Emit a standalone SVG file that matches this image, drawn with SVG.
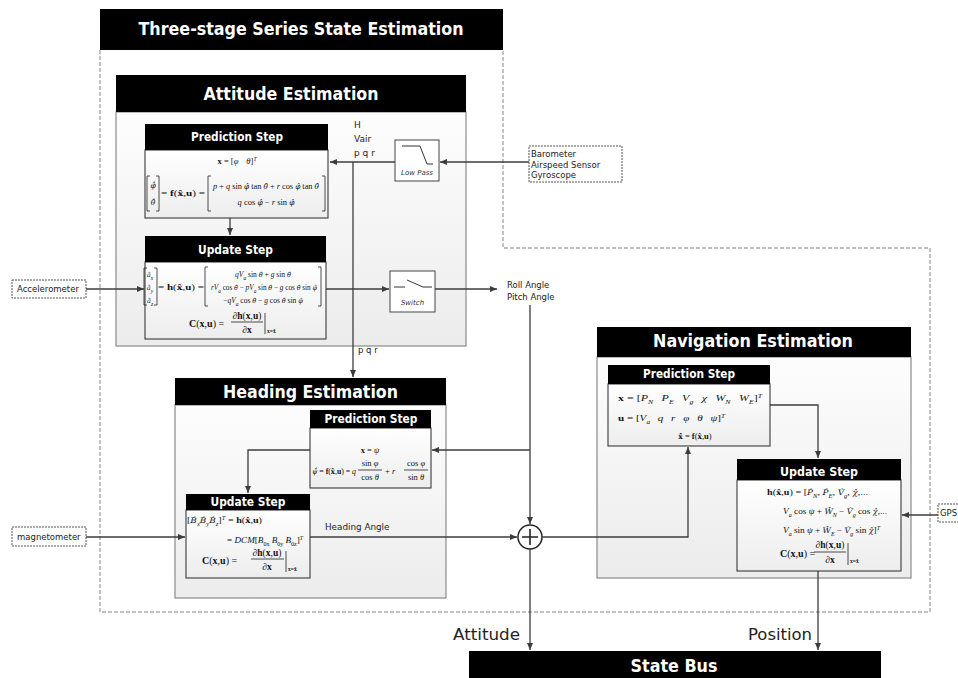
<svg xmlns="http://www.w3.org/2000/svg" width="958" height="678" viewBox="0 0 958 678">
<style>
.hdr{fill:#000}
.ttl{font-family:"DejaVu Sans",Verdana,sans-serif;font-weight:bold;fill:#fff;text-anchor:middle}
.big{fill:url(#gb);stroke:#8a8a8a;stroke-width:1.2}
.sb{fill:url(#gs);stroke:#3a3a3a;stroke-width:1.1}
.ln{stroke:#3c3c3c;stroke-width:1.3;fill:none}
.br{stroke:#222;stroke-width:0.8;fill:none}
.m{font-family:"Liberation Serif","Times New Roman",serif;font-size:8.5px;fill:#111}
.h{font-family:"DejaVu Serif",serif;font-size:88%}
.i{font-style:italic}
.b{font-weight:bold}
.s{font-size:5.5px;baseline-shift:sub}
.p{font-size:5.5px;baseline-shift:super;font-style:italic}
.lbl{font-family:"DejaVu Sans",Verdana,sans-serif;font-size:8.5px;fill:#222}
.it{font-family:"DejaVu Sans",Verdana,sans-serif;font-size:7px;font-style:italic;fill:#333;text-anchor:middle}
.dbox{fill:#fff;stroke:#555;stroke-width:1;stroke-dasharray:2 1}
.blk{fill:#fff;stroke:#444;stroke-width:1}
</style>
<defs>
<linearGradient id="gb" x1="0" y1="0" x2="0" y2="1"><stop offset="0" stop-color="#fdfdfd"/><stop offset="1" stop-color="#ececec"/></linearGradient>
<linearGradient id="gs" x1="0" y1="0" x2="0" y2="1"><stop offset="0" stop-color="#ffffff"/><stop offset="1" stop-color="#ededed"/></linearGradient>
<marker id="ar" markerWidth="8" markerHeight="6" refX="7" refY="3" orient="auto" markerUnits="userSpaceOnUse"><path d="M0,0 L7,3 L0,6 z" fill="#3c3c3c"/></marker>
</defs>
<rect width="958" height="678" fill="#fff"/>

<g id="frame">
<path d="M100,50 V612 H930 V248 H503 V50" fill="none" stroke="#858585" stroke-width="1" stroke-dasharray="4 2"/>
<rect class="hdr" x="100" y="9" width="403" height="41"/>
<text class="ttl" x="301" y="35" font-size="18" textLength="325" lengthAdjust="spacingAndGlyphs">Three-stage Series State Estimation</text>
</g>

<g id="attitude">
<rect class="big" x="116" y="112" width="350" height="234"/>
<rect class="hdr" x="116" y="75" width="350" height="37"/>
<text class="ttl" x="291" y="100" font-size="18" textLength="175" lengthAdjust="spacingAndGlyphs">Attitude Estimation</text>
</g>

<g id="att-pred">
<rect class="sb" x="145" y="150" width="183" height="68"/>
<rect class="hdr" x="145" y="124" width="183" height="26"/>
<text class="ttl" x="237" y="141" font-size="12" textLength="92" lengthAdjust="spacingAndGlyphs">Prediction Step</text>
<text class="m" x="237" y="164" text-anchor="middle"><tspan class="b">x</tspan> = [<tspan class="i">φ</tspan><tspan class="i" dx="8">θ</tspan>]<tspan class="p">T</tspan></text>
<path class="br" d="M150,176 h-3 v35 h3 M156,176 h3 v35 h-3 M211,176 h-3 v35 h3 M322,176 h3 v35 h-3"/>
<text class="m" x="153" y="188" text-anchor="middle"><tspan class="i h">φ&#x302;&#x307;</tspan></text>
<text class="m" x="153" y="205" text-anchor="middle"><tspan class="i h">θ&#x302;&#x307;</tspan></text>
<text class="m" x="161" y="196" textLength="44" lengthAdjust="spacingAndGlyphs">= <tspan class="b">f</tspan>(<tspan class="b h">x&#x302;</tspan>,<tspan class="b">u</tspan>) =</text>
<text class="m" x="266" y="189" text-anchor="middle" textLength="106" lengthAdjust="spacingAndGlyphs"><tspan class="i">p</tspan> + <tspan class="i">q</tspan> sin <tspan class="i h">φ&#x302;</tspan> tan <tspan class="i h">θ&#x302;</tspan> + <tspan class="i">r</tspan> cos <tspan class="i h">φ&#x302;</tspan> tan <tspan class="i h">θ&#x302;</tspan></text>
<text class="m" x="266" y="205" text-anchor="middle"><tspan class="i">q</tspan> cos <tspan class="i h">φ&#x302;</tspan> − <tspan class="i">r</tspan> sin <tspan class="i h">φ&#x302;</tspan></text>
</g>

<g id="att-upd">
<rect class="sb" x="145" y="262" width="181" height="77"/>
<rect class="hdr" x="145" y="236" width="181" height="26"/>
<text class="ttl" x="235.5" y="254" font-size="12" textLength="75" lengthAdjust="spacingAndGlyphs">Update Step</text>
<path class="br" d="M147,268 h-3 v37 h3 M154,268 h3 v37 h-3 M208,267 h-3 v39 h3 M318,267 h3 v39 h-3"/>
<text class="m" x="150" y="277" text-anchor="middle" style="font-size:7.5px"><tspan class="i h">a&#x302;</tspan><tspan class="s i">x</tspan></text>
<text class="m" x="150" y="290" text-anchor="middle" style="font-size:7.5px"><tspan class="i h">a&#x302;</tspan><tspan class="s i">y</tspan></text>
<text class="m" x="150" y="303" text-anchor="middle" style="font-size:7.5px"><tspan class="i h">a&#x302;</tspan><tspan class="s i">z</tspan></text>
<text class="m" x="158" y="290" textLength="46" lengthAdjust="spacingAndGlyphs">= <tspan class="b">h</tspan>(<tspan class="b h">x&#x302;</tspan>,<tspan class="b">u</tspan>) =</text>
<text class="m" x="263" y="277" text-anchor="middle" style="font-size:7.5px"><tspan class="i">qV</tspan><tspan class="s i">a</tspan> sin <tspan class="i h">θ&#x302;</tspan> + <tspan class="i">g</tspan> sin <tspan class="i h">θ&#x302;</tspan></text>
<text class="m" x="264" y="290" text-anchor="middle" style="font-size:7.5px" textLength="106" lengthAdjust="spacingAndGlyphs"><tspan class="i">rV</tspan><tspan class="s i">a</tspan> cos <tspan class="i h">θ&#x302;</tspan> − <tspan class="i">pV</tspan><tspan class="s i">a</tspan> sin <tspan class="i h">θ&#x302;</tspan> − <tspan class="i">g</tspan> cos <tspan class="i h">θ&#x302;</tspan> sin <tspan class="i h">φ&#x302;</tspan></text>
<text class="m" x="263" y="303" text-anchor="middle" style="font-size:7.5px">−<tspan class="i">qV</tspan><tspan class="s i">a</tspan> cos <tspan class="i h">θ&#x302;</tspan> − <tspan class="i">g</tspan> cos <tspan class="i h">θ&#x302;</tspan> sin <tspan class="i h">φ&#x302;</tspan></text>
<text class="m" x="189" y="327" style="font-size:10px"><tspan class="b">C</tspan>(<tspan class="b">x</tspan>,<tspan class="b">u</tspan>) =</text>
<text class="m" x="247" y="319" text-anchor="middle" style="font-size:9.5px">∂<tspan class="b">h</tspan>(<tspan class="b">x</tspan>,<tspan class="b">u</tspan>)</text>
<line class="br" x1="231" y1="322" x2="263" y2="322"/>
<text class="m" x="247" y="333" text-anchor="middle" style="font-size:9.5px">∂<tspan class="b">x</tspan></text>
<line class="br" x1="265" y1="313" x2="265" y2="334"/>
<text class="m b" x="267" y="333" style="font-size:5.5px">x=x&#x302;</text>
</g>

<g id="lowpass">
<rect class="blk" x="395" y="140" width="44" height="41"/>
<path d="M402,146 H420 L427,164 H433" fill="none" stroke="#333" stroke-width="1"/>
<text class="it" x="417" y="175">Low Pass</text>
</g>

<g id="switch">
<rect class="blk" x="390" y="271" width="45" height="41"/>
<path d="M394,287 H405 M407,280 L423,287 M423,287 H432" fill="none" stroke="#333" stroke-width="1"/>
<text class="it" x="412.5" y="305">Switch</text>
</g>

<g id="barometer">
<rect class="dbox" x="529" y="146" width="93" height="36"/>
<text class="lbl" x="531" y="157">Barometer</text>
<text class="lbl" x="531" y="167.5">Airspeed Sensor</text>
<text class="lbl" x="531" y="178">Gyroscope</text>
</g>

<g id="accelerometer">
<rect class="dbox" x="12" y="280" width="74" height="18"/>
<text class="lbl" x="17" y="292">Accelerometer</text>
</g>

<g id="magnetometer">
<rect class="dbox" x="12" y="527" width="74" height="19"/>
<text class="lbl" x="17" y="540">magnetometer</text>
</g>

<g id="gps">
<rect class="dbox" x="938" y="504" width="24" height="18"/>
<text class="lbl" x="940" y="516">GPS</text>
</g>

<g id="heading">
<rect class="big" x="175" y="405" width="271" height="193"/>
<rect class="hdr" x="175" y="378" width="271" height="27"/>
<text class="ttl" x="310.5" y="398" font-size="18" textLength="175" lengthAdjust="spacingAndGlyphs">Heading Estimation</text>
</g>

<g id="head-pred">
<rect class="sb" x="310" y="428" width="121" height="60"/>
<rect class="hdr" x="310" y="410" width="121" height="18"/>
<text class="ttl" x="371" y="423" font-size="12" textLength="93" lengthAdjust="spacingAndGlyphs">Prediction Step</text>
<text class="m" x="370" y="453" text-anchor="middle"><tspan class="b">x</tspan> = <tspan class="i">ψ</tspan></text>
<text class="m" x="312" y="474" textLength="44" lengthAdjust="spacingAndGlyphs"><tspan class="i h">ψ&#x302;&#x307;</tspan> = <tspan class="b">f</tspan>(<tspan class="b h">x&#x302;</tspan>,<tspan class="b">u</tspan>) = <tspan class="i">q</tspan></text>
<text class="m" x="370" y="466" text-anchor="middle">sin <tspan class="i">φ</tspan></text>
<line class="br" x1="358" y1="470" x2="382" y2="470"/>
<text class="m" x="370" y="480" text-anchor="middle">cos <tspan class="i">θ</tspan></text>
<text class="m" x="385" y="474">+ <tspan class="i">r</tspan></text>
<text class="m" x="416" y="466" text-anchor="middle">cos <tspan class="i">φ</tspan></text>
<line class="br" x1="404" y1="470" x2="428" y2="470"/>
<text class="m" x="416" y="480" text-anchor="middle">sin <tspan class="i">θ</tspan></text>
</g>

<g id="head-upd">
<rect class="sb" x="186" y="510" width="124" height="68"/>
<rect class="hdr" x="186" y="494" width="124" height="16"/>
<text class="ttl" x="248" y="506" font-size="12" textLength="75" lengthAdjust="spacingAndGlyphs">Update Step</text>
<text class="m" x="187" y="523" textLength="75" lengthAdjust="spacingAndGlyphs">[<tspan class="i h">B&#x302;</tspan><tspan class="s i">x</tspan><tspan class="i h">B&#x302;</tspan><tspan class="s i">y</tspan><tspan class="i h">B&#x302;</tspan><tspan class="s i">z</tspan>]<tspan class="p">T</tspan> = <tspan class="b">h</tspan>(<tspan class="b h">x&#x302;</tspan>,<tspan class="b">u</tspan>)</text>
<text class="m" x="227" y="543" textLength="76" lengthAdjust="spacingAndGlyphs">= <tspan class="i">DCM</tspan>[<tspan class="i">B</tspan><tspan class="s">0x</tspan> <tspan class="i">B</tspan><tspan class="s">0y</tspan> <tspan class="i">B</tspan><tspan class="s">0z</tspan>]<tspan class="p">T</tspan></text>
<text class="m" x="202" y="564" style="font-size:10px"><tspan class="b">C</tspan>(<tspan class="b">x</tspan>,<tspan class="b">u</tspan>) =</text>
<text class="m" x="267" y="556" text-anchor="middle" style="font-size:9.5px">∂<tspan class="b">h</tspan>(<tspan class="b">x</tspan>,<tspan class="b">u</tspan>)</text>
<line class="br" x1="251" y1="559" x2="284" y2="559"/>
<text class="m" x="267" y="570" text-anchor="middle" style="font-size:9.5px">∂<tspan class="b">x</tspan></text>
<line class="br" x1="286" y1="551" x2="286" y2="572"/>
<text class="m b" x="288" y="571" style="font-size:5.5px">x=x&#x302;</text>
</g>

<g id="nav">
<rect class="big" x="597" y="357" width="314" height="221"/>
<rect class="hdr" x="597" y="327" width="314" height="30"/>
<text class="ttl" x="753" y="347" font-size="18" textLength="200" lengthAdjust="spacingAndGlyphs">Navigation Estimation</text>
</g>

<g id="nav-pred">
<rect class="sb" x="608" y="384" width="162" height="62"/>
<rect class="hdr" x="608" y="365" width="162" height="19"/>
<text class="ttl" x="689" y="378" font-size="12" textLength="92" lengthAdjust="spacingAndGlyphs">Prediction Step</text>
<text class="m" x="618" y="401" textLength="144" lengthAdjust="spacingAndGlyphs"><tspan class="b">x</tspan> = [<tspan class="i">P</tspan><tspan class="s i">N</tspan><tspan class="i" dx="6">P</tspan><tspan class="s i">E</tspan><tspan class="i" dx="6">V</tspan><tspan class="s i">g</tspan><tspan class="i" dx="6">χ</tspan><tspan class="i" dx="6">W</tspan><tspan class="s i">N</tspan><tspan class="i" dx="6">W</tspan><tspan class="s i">E</tspan>]<tspan class="p">T</tspan></text>
<text class="m" x="618" y="421" textLength="107" lengthAdjust="spacingAndGlyphs"><tspan class="b">u</tspan> = [<tspan class="i">V</tspan><tspan class="s i">a</tspan><tspan class="i" dx="6">q</tspan><tspan class="i" dx="6">r</tspan><tspan class="i" dx="6">φ</tspan><tspan class="i" dx="6">θ</tspan><tspan class="i" dx="6">ψ</tspan>]<tspan class="p">T</tspan></text>
<text class="m" x="695" y="439" text-anchor="middle"><tspan class="b h">x&#x302;&#x307;</tspan> = <tspan class="b">f</tspan>(<tspan class="b h">x&#x302;</tspan>,<tspan class="b">u</tspan>)</text>
</g>

<g id="nav-upd">
<rect class="sb" x="737" y="480" width="164" height="91"/>
<rect class="hdr" x="737" y="459" width="164" height="21"/>
<text class="ttl" x="819" y="476" font-size="12" textLength="78" lengthAdjust="spacingAndGlyphs">Update Step</text>
<text class="m" x="767" y="495" textLength="101" lengthAdjust="spacingAndGlyphs"><tspan class="b">h</tspan>(<tspan class="b h">x&#x302;</tspan>,<tspan class="b">u</tspan>) = [<tspan class="i h">P&#x302;</tspan><tspan class="s i">N</tspan>, <tspan class="i h">P&#x302;</tspan><tspan class="s i">E</tspan>, <tspan class="i h">V&#x302;</tspan><tspan class="s i">g</tspan>, <tspan class="i h">χ&#x302;</tspan>,...</text>
<text class="m" x="783" y="514" textLength="104" lengthAdjust="spacingAndGlyphs"><tspan class="i">V</tspan><tspan class="s i">a</tspan> cos <tspan class="i">ψ</tspan> + <tspan class="i h">W&#x302;</tspan><tspan class="s i">N</tspan> − <tspan class="i h">V&#x302;</tspan><tspan class="s i">g</tspan> cos <tspan class="i h">χ&#x302;</tspan>,...</text>
<text class="m" x="783" y="533" textLength="97" lengthAdjust="spacingAndGlyphs"><tspan class="i">V</tspan><tspan class="s i">a</tspan> sin <tspan class="i">ψ</tspan> + <tspan class="i h">W&#x302;</tspan><tspan class="s i">E</tspan> − <tspan class="i h">V&#x302;</tspan><tspan class="s i">g</tspan> sin <tspan class="i h">χ&#x302;</tspan>]<tspan class="p">T</tspan></text>
<text class="m" x="780" y="557" style="font-size:10px"><tspan class="b">C</tspan>(<tspan class="b">x</tspan>,<tspan class="b">u</tspan>) =</text>
<text class="m" x="830" y="548" text-anchor="middle" style="font-size:9.5px">∂<tspan class="b">h</tspan>(<tspan class="b">x</tspan>,<tspan class="b">u</tspan>)</text>
<line class="br" x1="814" y1="552" x2="846" y2="552"/>
<text class="m" x="830" y="563" text-anchor="middle" style="font-size:9.5px">∂<tspan class="b">x</tspan></text>
<line class="br" x1="848" y1="543" x2="848" y2="565"/>
<text class="m b" x="850" y="563" style="font-size:5.5px">x=x&#x302;</text>
</g>

<g id="sum">
<circle cx="530" cy="537" r="12" fill="#fff" stroke="#222" stroke-width="1.5"/>
<path d="M522,537 H538 M530,529 V545" stroke="#222" stroke-width="1.6"/>
</g>

<g id="statebus">
<rect class="hdr" x="469" y="651" width="412" height="27"/>
<text class="ttl" x="674" y="672" font-size="17" textLength="87" lengthAdjust="spacingAndGlyphs">State Bus</text>
</g>

<g id="connectors">
<line class="ln" x1="529" y1="162" x2="440" y2="162" marker-end="url(#ar)"/>
<line class="ln" x1="395" y1="162" x2="330" y2="162" marker-end="url(#ar)"/>
<line class="ln" x1="353" y1="162" x2="353" y2="377" marker-end="url(#ar)"/>
<line class="ln" x1="230" y1="218" x2="230" y2="235" marker-end="url(#ar)"/>
<line class="ln" x1="86" y1="289" x2="144" y2="289" marker-end="url(#ar)"/>
<line class="ln" x1="326" y1="289" x2="389" y2="289" marker-end="url(#ar)"/>
<line class="ln" x1="435" y1="289" x2="497" y2="289" marker-end="url(#ar)"/>
<line class="ln" x1="530" y1="305" x2="530" y2="524" marker-end="url(#ar)"/>
<line class="ln" x1="530" y1="450" x2="432" y2="450" marker-end="url(#ar)"/>
<polyline class="ln" points="310,450 248,450 248,493" marker-end="url(#ar)"/>
<line class="ln" x1="86" y1="537" x2="185" y2="537" marker-end="url(#ar)"/>
<line class="ln" x1="310" y1="537" x2="517" y2="537" marker-end="url(#ar)"/>
<polyline class="ln" points="542,537 688,537 688,447" marker-end="url(#ar)"/>
<polyline class="ln" points="770,405 818,405 818,458" marker-end="url(#ar)"/>
<line class="ln" x1="938" y1="515" x2="902" y2="515" marker-end="url(#ar)"/>
<line class="ln" x1="818" y1="571" x2="818" y2="650" marker-end="url(#ar)"/>
<line class="ln" x1="530" y1="549" x2="530" y2="650" marker-end="url(#ar)"/>
<text class="lbl" x="354" y="128" style="font-size:9px">H</text>
<text class="lbl" x="354" y="142" style="font-size:9px">Vair</text>
<text class="lbl" x="354" y="155.5" style="font-size:9px">p q r</text>
<text class="lbl" x="507" y="288">Roll Angle</text>
<text class="lbl" x="507" y="299.5">Pitch Angle</text>
<text class="lbl" x="358" y="353">p q r</text>
<text class="lbl" x="325" y="530" style="font-size:8.8px">Heading Angle</text>
<text class="lbl" x="453" y="640" style="font-size:16px" textLength="67" lengthAdjust="spacingAndGlyphs">Attitude</text>
<text class="lbl" x="748" y="640" style="font-size:16px" textLength="64" lengthAdjust="spacingAndGlyphs">Position</text>
</g>
</svg>
